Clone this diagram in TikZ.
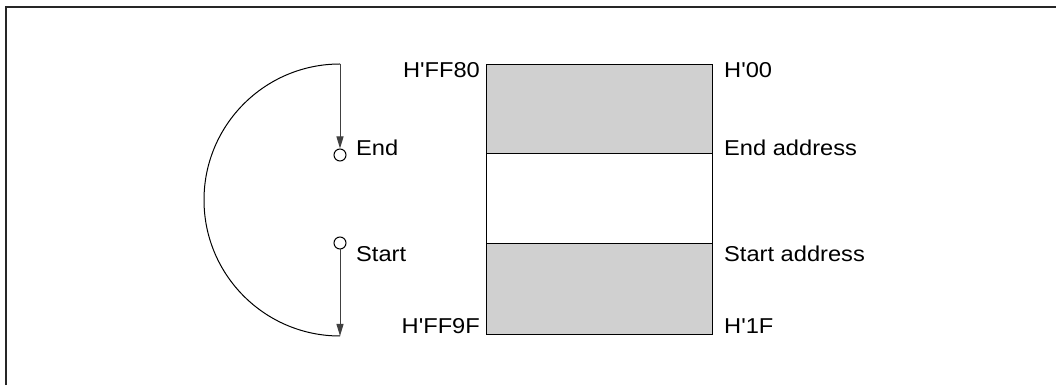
\documentclass[tikz,border=0pt]{standalone}
\usepackage{fontspec}
\setmainfont{Liberation Sans}
\usetikzlibrary{arrows.meta}
\definecolor{memgray}{RGB}{208,208,208}
\newcommand{\qq}{\textquotesingle}
\begin{document}
\begin{tikzpicture}[x=1pt,y=1pt,
  lbl/.style={inner sep=0pt,font=\fontsize{21.5}{24}\selectfont},
  ring/.style={circle,draw,line width=1pt,minimum size=12pt,inner sep=0pt},
  flow/.style={draw=black!75,line width=1pt,-{Triangle[length=12pt,width=7pt]}},
  frameline/.style={draw=black!85,line width=1.6pt},
  boxline/.style={draw,line width=1pt}]
\useasboundingbox (0,0) rectangle (1056,385);
% frame
\draw[frameline] (6,0) -- (6,378) -- (1056,378);
% memory box
\fill[memgray] (486,231) rectangle (712,320);
\fill[memgray] (486,50) rectangle (712,141);
\draw[boxline] (486,50) rectangle (712,320);
\draw[boxline] (486,231) -- (712,231);
\draw[boxline] (486,141) -- (712,141);
% labels
\node[lbl,anchor=east] (hff80) at (480,315) {\scalebox{1.1}[1]{H\qq FF80}};
\node[lbl,anchor=east] (hff9f) at (480,59) {\scalebox{1.1}[1]{H\qq FF9F}};
\node[lbl,anchor=west] (h00) at (724,315) {\scalebox{1.1}[1]{H\qq 00}};
\node[lbl,anchor=west] (endaddr) at (724,237) {\scalebox{1.1}[1]{End address}};
\node[lbl,anchor=west] (startaddr) at (724,131) {\scalebox{1.1}[1]{Start address}};
\node[lbl,anchor=west] (h1f) at (724,59) {\scalebox{1.1}[1]{H\qq 1F}};
% left ring diagram
\coordinate (top) at (340,321);
\coordinate (bot) at (340,49);
\node[ring] (endc) at (340,230) {};
\node[ring] (startc) at (340,142) {};
\node[lbl,anchor=west] (endl) at (356,237) {\scalebox{1.1}[1]{End}};
\node[lbl,anchor=west] (startl) at (356,131) {\scalebox{1.1}[1]{Start}};
\draw[line width=1pt] (top) arc[start angle=90,end angle=270,radius=136];
\draw[flow] (top) -- (endc.north);
\draw[flow] (startc.south) -- (bot);
\end{tikzpicture}
\end{document}
